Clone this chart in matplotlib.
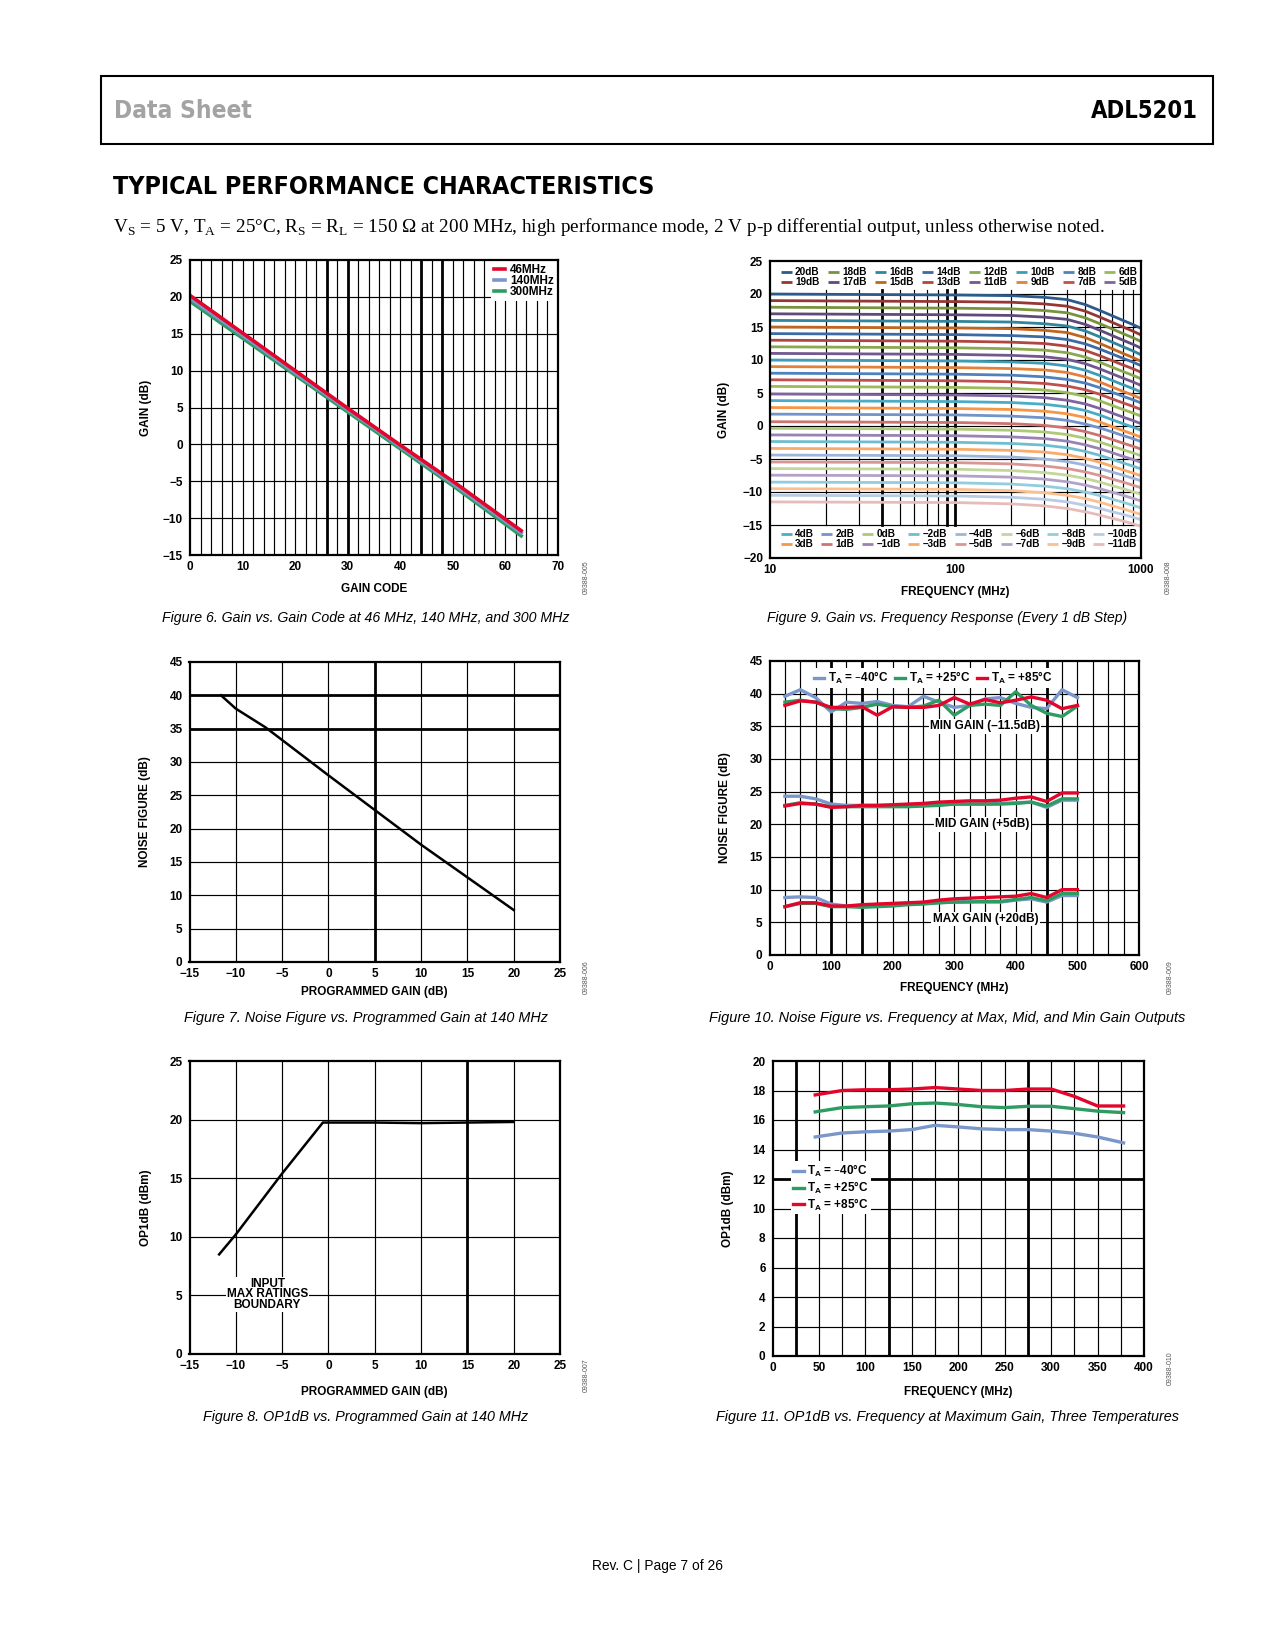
import matplotlib
matplotlib.use('Agg')
import matplotlib.pyplot as plt
from matplotlib import font_manager as fm
from matplotlib.patches import Rectangle

# Figure 6: gain vs gain code
gain_code = [0, 10, 20, 30, 40, 50, 63]
gain_46 = [20.2, 15.1, 10.0, 4.9, -0.1, -5.0, -11.7]
gain_140 = [19.8, 14.8, 9.7, 4.7, -0.3, -5.3, -12.0]
gain_300 = [19.4, 14.4, 9.4, 4.4, -0.6, -5.6, -12.4]

# Figure 9: gain vs frequency, one row per gain step
f9_freq = [10, 100, 200, 300, 400, 500, 600, 700, 800, 900, 1000]
f9_steps = [20, 19, 18, 17, 16, 15, 14, 13, 12, 11, 10, 9, 8, 7, 6, 5,
            4, 3, 2, 1, 0, -1, -2, -3, -4, -5, -6, -7, -8, -9, -10, -11]
f9_gain = [
    [20.0, 19.85, 19.75, 19.5, 19.15, 18.4, 17.5, 16.7, 16.0, 15.4, 14.8],
    [19.0, 18.85, 18.75, 18.5, 18.15, 17.4, 16.5, 15.7, 15.0, 14.4, 13.8],
    [18.0, 17.85, 17.75, 17.5, 17.15, 16.4, 15.5, 14.7, 14.0, 13.4, 12.8],
    [17.0, 16.85, 16.75, 16.5, 16.15, 15.4, 14.5, 13.7, 13.0, 12.4, 11.8],
    [16.0, 15.85, 15.75, 15.5, 15.15, 14.4, 13.5, 12.7, 12.0, 11.4, 10.8],
    [15.0, 14.85, 14.75, 14.5, 14.15, 13.4, 12.5, 11.7, 11.0, 10.4, 9.8],
    [14.0, 13.85, 13.7, 13.5, 13.1, 12.45, 11.65, 10.9, 10.25, 9.7, 9.15],
    [13.0, 12.85, 12.7, 12.5, 12.1, 11.45, 10.65, 9.9, 9.25, 8.7, 8.15],
    [12.0, 11.85, 11.7, 11.5, 11.1, 10.45, 9.65, 8.9, 8.25, 7.7, 7.15],
    [11.0, 10.85, 10.7, 10.5, 10.1, 9.45, 8.65, 7.9, 7.25, 6.7, 6.15],
    [10.0, 9.85, 9.7, 9.5, 9.1, 8.45, 7.65, 6.9, 6.25, 5.7, 5.15],
    [9.0, 8.85, 8.7, 8.5, 8.1, 7.45, 6.65, 5.9, 5.25, 4.7, 4.15],
    [8.0, 7.85, 7.7, 7.45, 7.05, 6.5, 5.8, 5.1, 4.5, 4.0, 3.5],
    [7.0, 6.85, 6.7, 6.45, 6.05, 5.5, 4.8, 4.1, 3.5, 3.0, 2.5],
    [6.0, 5.85, 5.7, 5.45, 5.05, 4.5, 3.8, 3.1, 2.5, 2.0, 1.5],
    [4.85, 4.7, 4.55, 4.3, 3.9, 3.35, 2.65, 1.95, 1.35, 0.85, 0.35],
    [3.85, 3.7, 3.55, 3.3, 2.9, 2.35, 1.65, 0.95, 0.35, -0.15, -0.65],
    [2.8, 2.65, 2.5, 2.25, 1.85, 1.3, 0.6, -0.1, -0.7, -1.2, -1.7],
    [1.8, 1.68, 1.5, 1.25, 0.85, 0.3, -0.3, -0.9, -1.45, -1.9, -2.35],
    [0.65, 0.53, 0.35, 0.1, -0.3, -0.85, -1.45, -2.05, -2.6, -3.05, -3.5],
    [-0.35, -0.47, -0.65, -0.9, -1.3, -1.85, -2.45, -3.05, -3.6, -4.05, -4.5],
    [-1.35, -1.47, -1.65, -1.9, -2.3, -2.85, -3.45, -4.05, -4.6, -5.05, -5.5],
    [-2.35, -2.47, -2.65, -2.9, -3.3, -3.85, -4.45, -5.05, -5.6, -6.05, -6.5],
    [-3.4, -3.52, -3.7, -3.95, -4.35, -4.9, -5.5, -6.1, -6.65, -7.1, -7.55],
    [-4.4, -4.5, -4.7, -5.0, -5.4, -5.9, -6.45, -7.0, -7.45, -7.9, -8.3],
    [-5.45, -5.55, -5.75, -6.05, -6.45, -6.95, -7.5, -8.05, -8.5, -8.95, -9.35],
    [-6.45, -6.55, -6.75, -7.05, -7.45, -7.95, -8.5, -9.05, -9.5, -9.95, -10.35],
    [-7.45, -7.55, -7.75, -8.05, -8.45, -8.95, -9.5, -10.05, -10.5, -10.95, -11.35],
    [-8.5, -8.6, -8.8, -9.1, -9.5, -10.0, -10.55, -11.1, -11.55, -12.0, -12.4],
    [-9.5, -9.6, -9.8, -10.1, -10.5, -11.0, -11.55, -12.1, -12.55, -13.0, -13.4],
    [-10.5, -10.6, -10.8, -11.1, -11.5, -12.0, -12.5, -13.0, -13.4, -13.8, -14.2],
    [-11.5, -11.6, -11.8, -12.1, -12.5, -13.0, -13.5, -14.0, -14.4, -14.8, -15.2],
]
f9_colors = ['#2c5a8c', '#953735', '#77933c', '#5f4a7b', '#31859c', '#c0661f',
             '#3b6aa5', '#b04542', '#8aa84d', '#71588f', '#3f9cb6', '#e0823c',
             '#4f81bd', '#c0504d', '#9bbb59', '#8064a2', '#4bacc6', '#f79646',
             '#7294ca', '#cd7371', '#afc97a', '#9983b5', '#6fbdd1', '#f9ab6b',
             '#9fb4d9', '#d99694', '#c3d69b', '#b3a2c7', '#93cddd', '#fac090',
             '#b9cbe5', '#e6bcbb']

# Figure 7: noise figure vs programmed gain
nf_prog_gain = [-11.6, -10.0, -6.8, -5.0, 0.0, 5.0, 10.0, 15.0, 20.0]
nf_db = [40.0, 38.0, 35.2, 33.3, 28.0, 22.8, 17.6, 12.7, 7.8]

# Figure 8: OP1dB vs programmed gain
op_prog_gain = [-11.8, -10.0, -5.0, -0.6, 0.0, 5.0, 10.0, 15.0, 20.0]
op_dbm = [8.5, 10.2, 15.4, 19.75, 19.75, 19.75, 19.7, 19.75, 19.8]

# Figure 10: noise figure vs frequency
nf_freq = [25, 50, 75, 100, 125, 150, 175, 200, 225, 250,
           275, 300, 325, 350, 375, 400, 425, 450, 475, 500]
nf_min_m40 = [39.6, 40.6, 39.4, 37.2, 38.7, 38.5, 38.8, 38.2, 38.0, 39.6,
              38.7, 37.9, 38.2, 39.2, 39.4, 38.5, 37.9, 37.7, 40.6, 39.4]
nf_min_p25 = [38.7, 39.0, 38.7, 37.7, 37.6, 37.9, 38.4, 38.0, 37.9, 38.1,
              39.0, 36.7, 38.2, 38.4, 38.2, 40.3, 38.2, 37.0, 36.5, 38.1]
nf_min_p85 = [38.2, 38.9, 38.7, 37.9, 37.9, 38.0, 36.7, 38.0, 37.9, 37.9,
              38.2, 39.4, 38.4, 39.1, 38.6, 39.0, 39.5, 39.0, 37.7, 38.2]
nf_mid_m40 = [24.3, 24.3, 23.9, 23.1, 22.9, 22.9, 22.9, 22.9, 22.9, 23.0,
              23.0, 23.1, 23.1, 23.1, 23.2, 23.3, 23.4, 22.6, 23.7, 23.7]
nf_mid_p25 = [22.9, 23.3, 23.1, 22.7, 22.7, 22.7, 22.7, 22.7, 22.7, 22.8,
              22.9, 23.1, 23.1, 23.1, 23.1, 23.2, 23.4, 22.8, 23.9, 23.9]
nf_mid_p85 = [22.8, 23.2, 23.1, 22.6, 22.7, 22.9, 22.9, 23.0, 23.1, 23.2,
              23.4, 23.5, 23.6, 23.6, 23.7, 24.0, 24.2, 23.5, 24.8, 24.8]
nf_max_m40 = [8.8, 8.9, 8.8, 7.8, 7.5, 7.5, 7.7, 7.8, 7.8, 7.9,
              8.0, 8.1, 8.2, 8.1, 8.1, 8.4, 8.6, 8.1, 9.1, 9.1]
nf_max_p25 = [7.4, 7.9, 7.9, 7.4, 7.4, 7.3, 7.4, 7.5, 7.7, 7.8,
              8.0, 8.1, 8.1, 8.2, 8.2, 8.5, 8.8, 8.3, 9.4, 9.4]
nf_max_p85 = [7.4, 8.0, 8.0, 7.5, 7.5, 7.7, 7.8, 7.9, 8.0, 8.1,
              8.4, 8.6, 8.7, 8.8, 8.9, 9.0, 9.4, 8.8, 10.0, 10.0]

# Figure 11: OP1dB vs frequency
op_freq = [46, 75, 100, 125, 150, 175, 200, 225, 250, 275, 300, 325, 350, 378]
op_m40 = [14.85, 15.12, 15.2, 15.25, 15.35, 15.64, 15.53, 15.4, 15.35, 15.35,
          15.25, 15.1, 14.85, 14.45]
op_p25 = [16.55, 16.84, 16.9, 16.95, 17.1, 17.15, 17.05, 16.9, 16.84, 16.93,
          16.93, 16.77, 16.6, 16.5]
op_p85 = [17.7, 18.0, 18.05, 18.05, 18.1, 18.2, 18.1, 18.0, 18.0, 18.1,
          18.1, 17.6, 16.95, 16.95]

temp_labels = ['T$_{\\mathregular{A}}$ = \u201340\u00b0C',
               'T$_{\\mathregular{A}}$ = +25\u00b0C',
               'T$_{\\mathregular{A}}$ = +85\u00b0C']

# ---------------- page setup ----------------
W, H = 1275, 1650
plt.rcParams['font.family'] = ['Liberation Sans', 'DejaVu Sans']
plt.rcParams['font.weight'] = 'bold'
plt.rcParams['axes.linewidth'] = 1.6

fig = plt.figure(figsize=(W / 100, H / 100), dpi=100)
renderer = fig.canvas.get_renderer()


def narrow_font():
    # look for an installed condensed bold face for the header lettering
    files = [f.fname for f in fm.fontManager.ttflist]
    for key in ('SansNarrow-Bold', 'Sans-CondensedBold', 'SansCondensed-Bold',
                'Condensed-Bold', 'CondensedBold', 'ExtraCondensedBold'):
        for fn in files:
            base = fn.replace('\\', '/').split('/')[-1]
            if key in base and 'Italic' not in base and 'Oblique' not in base \
                    and 'Semi' not in base and ('Extra' not in base or 'Extra' in key):
                return fm.FontProperties(fname=fn)
    return fm.FontProperties(family='DejaVu Sans', weight='bold', stretch='condensed')


narrow = narrow_font()

RED = '#e2062c'
BLUE = '#7b97c9'
GREEN = '#2e9b63'


def box(l, t, r, b):
    return [l / W, 1 - b / H, (r - l) / W, (b - t) / H]


def place(x, y, s, width=None, **kw):
    t = fig.text(x / W, 1 - y / H, s, **kw)
    if width:
        w = t.get_window_extent(renderer).width
        t.set_fontsize(t.get_fontsize() * width / w)
    return t


def frame(rect, xlim, ylim, xticks, yticks):
    ax = fig.add_axes(box(*rect))
    ax.set_xlim(*xlim)
    ax.set_ylim(*ylim)
    ax.set_xticks(xticks)
    ax.set_yticks(yticks)
    ax.tick_params(length=0, labelsize=8.5, pad=5)
    ax.tick_params(axis='x', pad=4)
    for s in ax.spines.values():
        s.set_zorder(5)
    return ax


def grid(ax, xs, ys, thick_x=(), thick_y=(), ylo=0, yhi=1):
    for x in xs:
        ax.axvline(x, ymin=ylo, ymax=yhi, color='k',
                   lw=2.0 if x in thick_x else 0.85, zorder=1)
    for y in ys:
        ax.axhline(y, color='k', lw=2.0 if y in thick_y else 0.85, zorder=1)


def labels(rect, xlabel, xl_y, ylabel, yl_x, idtxt, id_xy):
    l, t, r, b = rect
    place((l + r) / 2, xl_y, xlabel, ha='center', va='center', fontsize=8.5)
    place(yl_x, (t + b) / 2, ylabel, ha='center', va='center', rotation=90, fontsize=8.5)
    place(id_xy[0], id_xy[1], idtxt, ha='center', va='center', rotation=90,
          fontsize=5, weight='normal', color='#555555')


# ---------------- header ----------------
fig.add_artist(Rectangle((101 / W, 1 - 144 / H), (1213 - 101) / W, (144 - 76) / H,
                         transform=fig.transFigure, fill=False, lw=1.5, ec='k'))
place(113.7, 111, 'Data Sheet', width=138, ha='left', va='center',
      fontproperties=narrow, fontsize=20, color='#a3a3a3')
place(1198, 111, 'ADL5201', width=107, ha='right', va='center',
      fontproperties=narrow, fontsize=20, color='k')
place(112.6, 186.5, 'TYPICAL PERFORMANCE CHARACTERISTICS', width=542, ha='left',
      va='center', fontproperties=narrow, fontsize=24)
place(112.6, 226.5,
      'V$_{\\mathregular{S}}$ = 5 V, T$_{\\mathregular{A}}$ = 25\u00b0C, '
      'R$_{\\mathregular{S}}$ = R$_{\\mathregular{L}}$ = 150 \u03a9 at 200 MHz, '
      'high performance mode, 2 V p-p differential output, unless otherwise noted.',
      width=996, ha='left', va='center', family='Liberation Serif',
      weight='normal', fontsize=12.5)

# ---------------- Figure 6 ----------------
r6 = (190, 260, 558, 555)
ax6 = frame(r6, (0, 70), (-15, 25), range(0, 71, 10), range(-15, 26, 5))
grid(ax6, range(2, 70, 2), range(-10, 25, 5), thick_x=(26, 30, 44, 48))
l300, = ax6.plot(gain_code, gain_300, color=GREEN, lw=2.6, zorder=3)
l140, = ax6.plot(gain_code, gain_140, color=BLUE, lw=2.6, zorder=3)
l46, = ax6.plot(gain_code, gain_46, color=RED, lw=2.6, zorder=3)
lg = ax6.legend([l46, l140, l300], ['46MHz', '140MHz', '300MHz'], loc='upper right',
                fontsize=8.5, handlelength=1.0, handletextpad=0.4, labelspacing=-0.1,
                borderpad=0.25, borderaxespad=0.1, frameon=True, fancybox=False,
                framealpha=1, facecolor='white', edgecolor='none')
lg.set_zorder(4)
labels(r6, 'GAIN CODE', 588.5, 'GAIN (dB)', 146, '09388-005', (586, 577))

# ---------------- Figure 9 ----------------
r9 = (770, 261, 1141, 558)
ax9 = frame(r9, (10, 1000), (-20, 25), [10, 100, 1000], range(-20, 26, 5))
ax9.set_xscale('log')
ax9.set_xlim(10, 1000)
ax9.set_xticks([10, 100, 1000])
ax9.set_xticklabels(['10', '100', '1000'])
ax9.xaxis.set_minor_locator(plt.NullLocator())
vx = [20, 30, 40, 50, 60, 70, 80, 90, 200, 300, 400, 500, 600, 700, 800, 900]
grid(ax9, vx, range(-15, 21, 5), thick_x=(40, 90), ylo=5 / 45, yhi=40.56 / 45)
ax9.axvline(100, ymin=5 / 45, ymax=40.56 / 45, color='k', lw=2.0, zorder=1)
handles9 = []
for step, row, col in zip(f9_steps, f9_gain, f9_colors):
    h, = ax9.plot(f9_freq, row, color=col, lw=2.0, zorder=3,
                  solid_capstyle='butt')
    handles9.append(h)
names9 = [('%ddB' % s).replace('-', '\u2013') for s in f9_steps]
leg_kw = dict(ncol=8, mode='expand', fontsize=7.2, handlelength=1.1,
              handletextpad=0.35, labelspacing=0.0, columnspacing=0.2,
              borderpad=0.0, frameon=False)
top9 = ax9.legend(handles9[:16], names9[:16], loc='upper left',
                  bbox_to_anchor=(0.015, 0.905, 0.99, 0.09), **leg_kw)
ax9.add_artist(top9)
ax9.legend(handles9[16:], names9[16:], loc='lower left',
           bbox_to_anchor=(0.015, 0.012, 0.99, 0.09), **leg_kw)
labels(r9, 'FREQUENCY (MHz)', 592.5, 'GAIN (dB)', 724, '09388-008', (1168, 577))

# ---------------- Figure 7 ----------------
r7 = (189.5, 662, 560, 962)
ax7 = frame(r7, (-15, 25), (0, 45), range(-15, 26, 5), range(0, 46, 5))
grid(ax7, range(-10, 25, 5), range(5, 45, 5), thick_x=(5,), thick_y=(35, 40))
ax7.plot(nf_prog_gain, nf_db, color='k', lw=1.8, zorder=3)
labels(r7, 'PROGRAMMED GAIN (dB)', 991.5, 'NOISE FIGURE (dB)', 145, '09388-006', (586, 977))

# ---------------- Figure 10 ----------------
r10 = (769.5, 661, 1139, 955)
ax10 = frame(r10, (0, 600), (0, 45), range(0, 601, 100), range(0, 46, 5))
grid(ax10, range(25, 600, 25), range(5, 45, 5), thick_x=(100, 150, 450))
for m40, p25, p85 in [(nf_min_m40, nf_min_p25, nf_min_p85),
                      (nf_mid_m40, nf_mid_p25, nf_mid_p85),
                      (nf_max_m40, nf_max_p25, nf_max_p85)]:
    hb, = ax10.plot(nf_freq, m40, color=BLUE, lw=2.4, zorder=3)
    hg, = ax10.plot(nf_freq, p25, color=GREEN, lw=2.4, zorder=3)
    hr, = ax10.plot(nf_freq, p85, color=RED, lw=2.4, zorder=3)
bb = dict(facecolor='white', edgecolor='none', pad=1.0)
ax10.text(350, 35, 'MIN GAIN (\u201311.5dB)', ha='center', va='center', fontsize=8.5, bbox=bb, zorder=4)
ax10.text(346, 20, 'MID GAIN (+5dB)', ha='center', va='center', fontsize=8.5, bbox=bb, zorder=4)
ax10.text(351, 5.5, 'MAX GAIN (+20dB)', ha='center', va='center', fontsize=8.5, bbox=bb, zorder=4)
lg10 = ax10.legend([hb, hg, hr], temp_labels, loc='upper center', bbox_to_anchor=(0.443, 0.995),
                   ncol=3, fontsize=8.5, handlelength=0.9, handletextpad=0.3,
                   columnspacing=0.5, borderpad=0.15, frameon=True, fancybox=False,
                   framealpha=1, facecolor='white', edgecolor='none')
lg10.set_zorder(4)
labels(r10, 'FREQUENCY (MHz)', 988.5, 'NOISE FIGURE (dB)', 725, '09388-009', (1170, 977))

# ---------------- Figure 8 ----------------
r8 = (189.5, 1061, 560, 1354)
ax8 = frame(r8, (-15, 25), (0, 25), range(-15, 26, 5), range(0, 26, 5))
grid(ax8, range(-10, 25, 5), range(5, 25, 5), thick_x=(15,))
ax8.plot(op_prog_gain, op_dbm, color='k', lw=1.8, zorder=3)
ax8.text(-6.6, 5.1, 'INPUT\nMAX RATINGS\nBOUNDARY', ha='center', va='center',
         fontsize=8.5, linespacing=0.85, bbox=dict(facecolor='white', edgecolor='none', pad=0.5),
         zorder=4)
labels(r8, 'PROGRAMMED GAIN (dB)', 1391.5, 'OP1dB (dBm)', 145.5, '09388-007', (586, 1375))

# ---------------- Figure 11 ----------------
r11 = (772.5, 1061, 1144, 1356)
ax11 = frame(r11, (0, 400), (0, 20), range(0, 401, 50), range(0, 21, 2))
grid(ax11, range(25, 400, 25), range(2, 20, 2), thick_x=(25, 125, 275), thick_y=(12,))
hb, = ax11.plot(op_freq, op_m40, color=BLUE, lw=2.4, zorder=3)
hg, = ax11.plot(op_freq, op_p25, color=GREEN, lw=2.4, zorder=3)
hr, = ax11.plot(op_freq, op_p85, color=RED, lw=2.4, zorder=3)
lg11 = ax11.legend([hb, hg, hr], temp_labels, loc='upper left', bbox_to_anchor=(0.035, 0.68),
                   fontsize=8.5, handlelength=0.9, handletextpad=0.3, labelspacing=0.05,
                   borderpad=0.15, frameon=True, fancybox=False, framealpha=1,
                   facecolor='white', edgecolor='none')
lg11.set_zorder(4)
labels(r11, 'FREQUENCY (MHz)', 1391.5, 'OP1dB (dBm)', 728, '09388-010', (1170, 1368))

# ---------------- captions and footer ----------------
cap = dict(ha='center', va='center', style='italic', weight='normal', fontsize=10.5)
place(365.8, 618, 'Figure 6. Gain vs. Gain Code at 46 MHz, 140 MHz, and 300 MHz', width=411, **cap)
place(947.3, 618, 'Figure 9. Gain vs. Frequency Response (Every 1 dB Step)', width=360, **cap)
place(365.5, 1018, 'Figure 7. Noise Figure vs. Programmed Gain at 140 MHz', width=366, **cap)
place(947, 1018, 'Figure 10. Noise Figure vs. Frequency at Max, Mid, and Min Gain Outputs', width=476, **cap)
place(365.3, 1417, 'Figure 8. OP1dB vs. Programmed Gain at 140 MHz', width=328, **cap)
place(947, 1417, 'Figure 11. OP1dB vs. Frequency at Maximum Gain, Three Temperatures', width=466, **cap)
place(657, 1566, 'Rev. C | Page 7 of 26', width=130, ha='center', va='center',
      weight='normal', fontsize=9)

fig.savefig('out.png', dpi=100)
